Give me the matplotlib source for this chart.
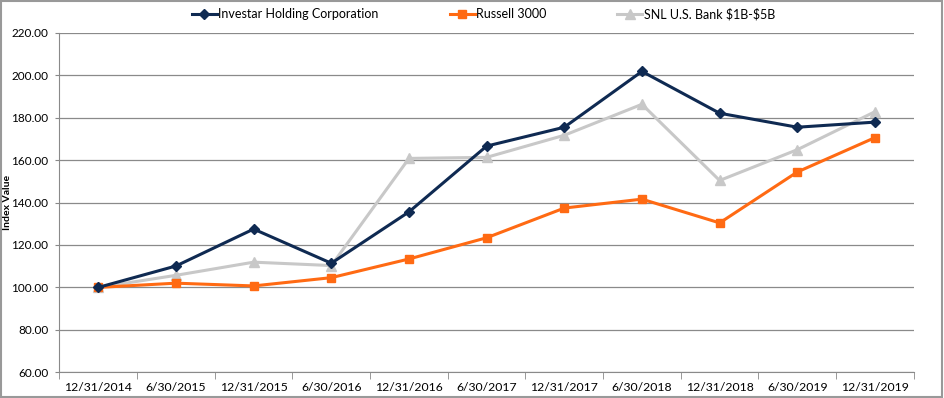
import matplotlib
matplotlib.use('Agg')
import matplotlib.pyplot as plt
import numpy as np

dates = ["12/31/2014", "6/30/2015", "12/31/2015", "6/30/2016", "12/31/2016", "6/30/2017",
         "12/31/2017", "6/30/2018", "12/31/2018", "6/30/2019", "12/31/2019"]
investar = [100.0, 110.1, 127.5, 111.4, 135.6, 166.6, 175.5, 201.8, 182.1, 175.5, 177.9]
russell = [100.0, 102.0, 100.7, 104.6, 113.4, 123.4, 137.4, 141.6, 130.4, 154.4, 170.6]
snl = [100.0, 105.7, 111.9, 110.3, 160.8, 161.3, 171.7, 186.3, 150.4, 164.9, 182.8]

plt.rcParams['font.family'] = ['Lato', 'DejaVu Sans']

fig = plt.figure(figsize=(9.44, 3.98), dpi=100)
ax = fig.add_axes([0.063, 0.0646, 0.905, 0.853])

x = np.arange(len(dates))
ax.plot(x, investar, color='#0f2a52', lw=2.2, marker='D', ms=5, label='Investar Holding Corporation', zorder=4)
ax.plot(x, russell, color='#ff6a13', lw=2.2, marker='s', ms=6, label='Russell 3000', zorder=3)
ax.plot(x, snl, color='#c8c8c8', lw=2.2, marker='^', ms=6.5, label=r'SNL U.S. Bank \$1B-\$5B', zorder=2)

ax.set_ylim(60, 220)
ax.set_yticks(np.arange(60, 221, 20))
ax.set_yticklabels([f"{v:.2f}" for v in np.arange(60, 221, 20)], fontsize=8.5)
ax.set_xlim(-0.5, len(dates) - 0.5)
ax.set_xticks(x)
ax.set_xticklabels(dates, fontsize=8.8)
ax.set_xticks(np.arange(-0.5, len(dates), 1), minor=True)
ax.tick_params(axis='x', which='major', length=0, pad=7)
ax.tick_params(axis='x', which='minor', length=5, color='#888888')
ax.tick_params(axis='y', length=3, color='#888888', pad=5)
ax.grid(axis='y', color='#8a8a8a', lw=0.9)
ax.set_axisbelow(True)
for s in ['top', 'right']:
    ax.spines[s].set_visible(False)
for s in ['left', 'bottom']:
    ax.spines[s].set_color('#8a8a8a')
ax.set_ylabel("Index Value", fontsize=7.5, fontweight='bold')
ax.yaxis.set_label_coords(-0.0555, 0.5)

fig.legend(loc='center', bbox_to_anchor=(0.512, 0.965), ncol=3, frameon=False,
           fontsize=9, handlelength=2.0, columnspacing=5.7, handletextpad=0.1,
           borderpad=0, borderaxespad=0)

fig.patches.append(plt.Rectangle((0.001, 0.002), 0.997, 0.995, transform=fig.transFigure,
                                 fill=False, edgecolor='#999999', lw=1.5))
fig.savefig("out.png", dpi=100)
